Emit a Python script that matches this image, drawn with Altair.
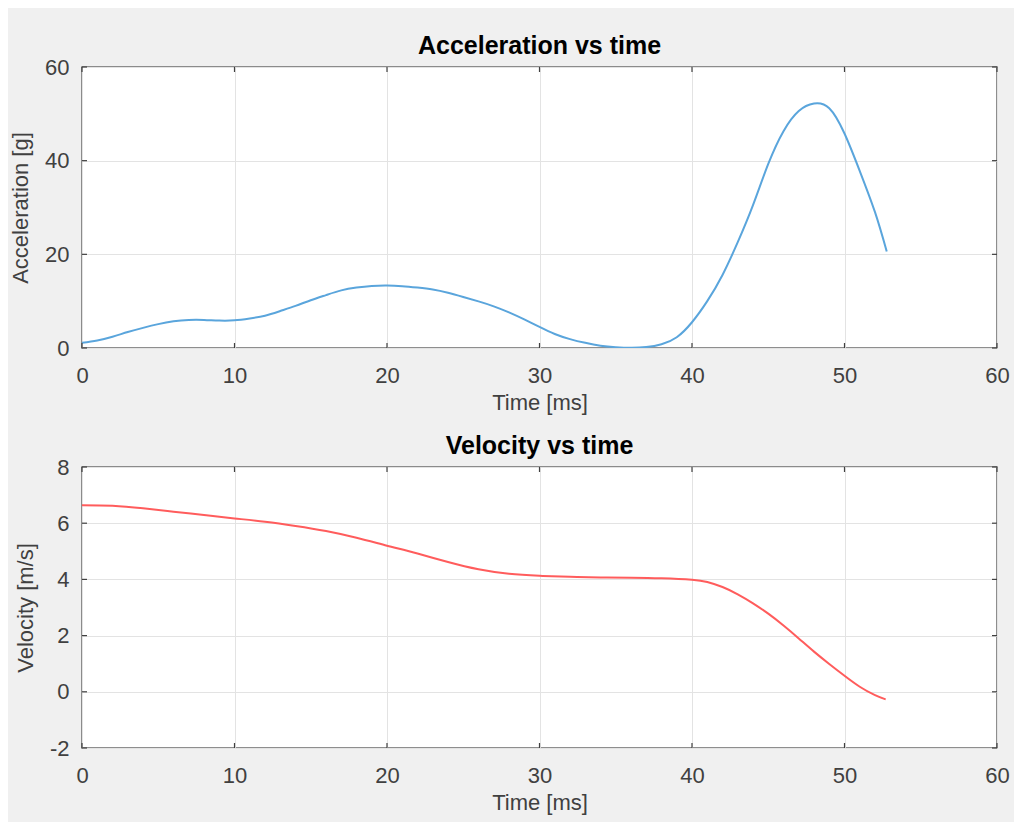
import altair as alt
import pandas as pd

# Acceleration data (time in ms, acceleration in g)
acc_time = [0, 1, 2, 3, 4, 5, 6, 7, 8, 9, 10, 11, 12, 13, 14, 15, 16, 17, 18, 19,
            20, 21, 22, 23, 24, 25, 26, 27, 28, 29, 30, 31, 32, 33, 34, 35, 36, 37,
            38, 39, 40, 41, 42, 43, 44, 45, 46, 47, 48, 49, 50, 51, 52, 52.77]
acc_g = [1.1, 1.6, 2.4, 3.4, 4.3, 5.1, 5.7, 6.0, 6.0, 5.85, 5.9, 6.3, 6.9, 7.9, 9.0,
         10.2, 11.3, 12.3, 12.9, 13.25, 13.35, 13.2, 12.9, 12.5, 11.8, 10.9, 9.95,
         8.9, 7.6, 6.1, 4.5, 3.0, 1.9, 1.1, 0.5, 0.18, 0.05, 0.2, 0.8, 2.3, 5.5,
         10.0, 15.6, 22.6, 30.5, 39.3, 46.3, 50.6, 52.2, 51.2, 45.8, 37.8, 29.0, 20.6]

# Velocity data (time in ms, velocity in m/s)
vel_time = [0, 2, 4, 6, 8, 10, 12, 14, 16, 18, 20, 22, 24, 26, 28, 30, 32, 34, 36,
            38, 40, 41, 42, 43, 44, 45, 46, 47, 48, 49, 50, 51, 52, 52.7]
vel_ms = [6.64, 6.62, 6.53, 6.41, 6.29, 6.17, 6.05, 5.90, 5.72, 5.48, 5.20, 4.92,
          4.62, 4.36, 4.20, 4.13, 4.09, 4.07, 4.06, 4.04, 3.99, 3.91, 3.73, 3.47,
          3.15, 2.78, 2.36, 1.90, 1.43, 0.99, 0.57, 0.18, -0.12, -0.27]

x_ticks = [0, 10, 20, 30, 40, 50, 60]
acc_ticks = [0, 20, 40, 60]
vel_ticks = [-2, 0, 2, 4, 6, 8]

W, H = 915, 281
FONT = "Liberation Sans"
TICK_LEN = 5

acc_df = pd.DataFrame({"t": acc_time, "v": acc_g})
vel_df = pd.DataFrame({"t": vel_time, "v": vel_ms})


def panel(df, title, ytitle, ydomain, yticks, color):
    xs = alt.Scale(domain=[0, 60], nice=False, zero=False)
    ys = alt.Scale(domain=ydomain, nice=False, zero=False)
    xaxis = alt.Axis(values=x_ticks, title="Time [ms]", grid=True, ticks=False,
                     labelPadding=17, titlePadding=6, labelExpr="datum.value",
                     labelFlush=False)
    yaxis = alt.Axis(values=yticks, title=ytitle, grid=True, ticks=False,
                     labelPadding=13, titlePadding=12, labelExpr="datum.value",
                     labelFlush=False)
    line = alt.Chart(df).mark_line(color=color, strokeWidth=2, interpolate="natural",
                                   clip=True).encode(
        x=alt.X("t:Q", scale=xs, axis=xaxis),
        y=alt.Y("v:Q", scale=ys, axis=yaxis),
    )
    xt = pd.DataFrame({"t": x_ticks})
    yt = pd.DataFrame({"v": yticks})
    tick_style = dict(color="#404040", strokeWidth=1.2)
    xb = alt.Chart(xt).mark_rule(**tick_style).encode(
        x=alt.X("t:Q", scale=xs), y=alt.value(H), y2=alt.value(H - TICK_LEN))
    xtop = alt.Chart(xt).mark_rule(**tick_style).encode(
        x=alt.X("t:Q", scale=xs), y=alt.value(0), y2=alt.value(TICK_LEN))
    yl = alt.Chart(yt).mark_rule(**tick_style).encode(
        y=alt.Y("v:Q", scale=ys), x=alt.value(0), x2=alt.value(TICK_LEN))
    yr = alt.Chart(yt).mark_rule(**tick_style).encode(
        y=alt.Y("v:Q", scale=ys), x=alt.value(W), x2=alt.value(W - TICK_LEN))
    return alt.layer(line, xb, xtop, yl, yr).properties(
        width=W, height=H,
        title=alt.TitleParams(title, fontSize=25, fontWeight="bold", font=FONT,
                              color="#000000", offset=-3),
    )


top = panel(acc_df, "Acceleration vs time", "Acceleration [g]", [0, 60], acc_ticks, "#5aa5dc")
bottom = panel(vel_df, "Velocity vs time", "Velocity [m/s]", [-2, 8], vel_ticks, "#ff5c5c")

chart = alt.vconcat(top, bottom, spacing=19).properties(
    background="#f0f0f0",
    padding={"left": 0, "top": 25, "right": 4, "bottom": 8},
).configure_view(
    fill="#ffffff", stroke="#6a6a6a", strokeWidth=1.5
).configure_axis(
    labelFont=FONT, titleFont=FONT, labelFontSize=22, titleFontSize=22,
    labelColor="#404040", titleColor="#404040", titleFontWeight="normal",
    domain=False, gridColor="#e3e3e3", gridWidth=1,
)

chart.save("out.html", embed_options={"renderer": "svg", "actions": False})
